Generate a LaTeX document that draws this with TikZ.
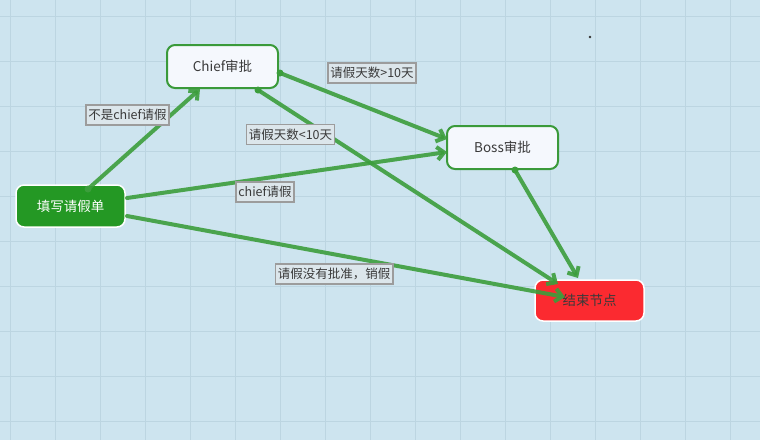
\documentclass[tikz,border=0pt]{standalone}
\usepackage{fontspec}
\setmainfont{Noto Sans CJK SC}
\usetikzlibrary{arrows.meta,calc}
\definecolor{bgc}{HTML}{CDE4EF}
\definecolor{gridc}{HTML}{BCD5E1}
\definecolor{edgec}{HTML}{3C9E3C}
\definecolor{nodeborder}{HTML}{3A9A3A}
\definecolor{lightfill}{HTML}{F5F8FD}
\definecolor{startfill}{HTML}{249824}
\definecolor{endfill}{HTML}{FB2A30}
\definecolor{labelfill}{HTML}{DCE6EB}
\definecolor{labelborder}{HTML}{9C9C9C}
\definecolor{txt}{HTML}{3A3A3A}
\tikzset{
  box/.style={rounded corners=8pt, minimum width=111pt, minimum height=43pt, inner sep=0pt, font=\fontsize{13.5pt}{15pt}\selectfont},
  approve/.style={box, fill=lightfill, draw=nodeborder, line width=2pt, text=txt},
  startbox/.style={box, minimum width=109pt, minimum height=42pt, fill=startfill, draw=white, line width=1.5pt, text=white},
  endbox/.style={box, minimum width=109pt, minimum height=41pt, fill=endfill, draw=white, line width=1.5pt, text=txt},
  flow/.style={draw=edgec, opacity=0.9, line width=4pt, line cap=round, -{Straight Barb[length=7pt,width=13pt]}},
  dot/.style={circle, fill=edgec, inner sep=0pt, minimum size=7pt},
  lab/.style={fill=labelfill, draw=labelborder, line width=1.5pt, text=txt, inner xsep=2.5pt, inner ysep=4pt, font=\fontsize{12.5pt}{14pt}\selectfont}
}
\begin{document}
\begin{tikzpicture}[x=1pt,y=-1pt]
\fill[bgc] (0,0) rectangle (760,440);
\useasboundingbox (0,0) rectangle (760,440);
\foreach \x in {10,55,...,755} \draw[gridc, line width=1pt] (\x,0) -- (\x,440);
\foreach \y in {16,61,...,440} \draw[gridc, line width=1pt] (0,\y) -- (760,\y);
\fill[black!80] (590,37) circle (1.3);

\node[approve] (chief) at (222.5,66.5) {Chief审批};
\node[approve] (boss) at (502.5,147.5) {Boss审批};
\node[startbox] (start) at (70.5,206) {填写请假单};
\node[endbox] (end) at (589.5,300.5) {结束节点};

\draw[flow] ($(chief)+(35.5,23.5)$) -- ($(end)+(-31.5,-16.5)$);
\draw[flow] ($(start)+(17.5,-17)$) -- ($(chief)+(-22.5,22.5)$);
\draw[flow] ($(start)+(56.5,-8)$) -- ($(boss)+(-55.5,4.5)$);
\draw[flow] ($(start)+(56.5,10)$) -- ($(end)+(-24.5,-3.5)$);
\draw[flow] ($(chief)+(57.5,6.5)$) -- ($(boss)+(-55.5,-8.5)$);
\draw[flow] ($(boss)+(12.5,22.5)$) -- ($(end)+(-11.5,-22.5)$);
\node[dot] (d1) at ($(chief)+(35.5,23.5)$) {};
\node[dot] (d2) at ($(start)+(17.5,-17)$) {};
\node[dot] (d3) at ($(chief)+(57.5,6.5)$) {};
\node[dot] (d4) at ($(boss)+(12.5,22.5)$) {};

\node[lab] (l1) at (127.5,115) {不是chief请假};
\node[lab] (l2) at (372,73) {请假天数>10天};
\node[lab] (l3) at (290.5,134.5) {请假天数<10天};
\node[lab] (l4) at (265,192) {chief请假};
\node[lab] (l5) at (334,274) {请假没有批准，销假};
\end{tikzpicture}
\end{document}
